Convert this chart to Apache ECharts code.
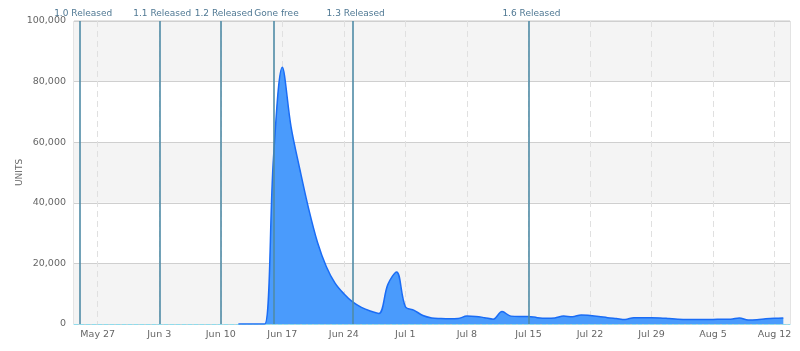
<!DOCTYPE html>
<html lang="en">
<head>
    <meta charset="UTF-8">
    <title>Units</title>
    <script src="https://cdn.jsdelivr.net/npm/echarts@6/dist/echarts.min.js"></script>
    <style>
        html, body {margin: 0; padding: 0; background: #fff;}
        #chart {width: 800px; height: 351px;}
    </style>
</head>
<body>
<div id="chart"></div>
<script>
    // days are counted from May 27
    var monthNames = ['Jan', 'Feb', 'Mar', 'Apr', 'May', 'Jun', 'Jul', 'Aug', 'Sep', 'Oct', 'Nov', 'Dec']
    var dayOffsets = [16, 17, 18, 19, 20, 21, 22, 23, 24, 25, 26, 27, 28, 29, 30, 31, 32, 33, 34, 35, 36, 37, 38, 39,
        40, 41, 42, 43, 44, 45, 46, 47, 48, 49, 50, 51, 52, 53, 54, 55, 56, 57, 58, 59, 60, 61, 62, 63, 64, 65, 66,
        67, 68, 69, 70, 71, 72, 73, 74, 75, 76, 77, 78]
    var units = [0, 0, 0, 0, 55000, 84700, 65000, 51000, 38000, 27000, 19000, 13500, 10000, 7300, 5500, 4300, 3500,
        13000, 17200, 5700, 4500, 2800, 2000, 1800, 1700, 1800, 2600, 2500, 2100, 1600, 4100, 2600, 2500, 2500,
        2100, 1900, 2000, 2600, 2400, 3000, 2800, 2500, 2100, 1800, 1500, 2100, 2100, 2100, 2000, 1800, 1600,
        1500, 1500, 1500, 1500, 1600, 1600, 2000, 1300, 1400, 1700, 1900, 2000]
    var weekTicks = [0, 7, 14, 21, 28, 35, 42, 49, 56, 63, 70, 77]
    var releaseDays = [-2, 7, 14, 20, 29, 49]
    var releaseNames = ['1.0 Released', '1.1 Released', '1.2 Released', 'Gone free', '1.3 Released', '1.6 Released']

    var points = dayOffsets.map(function (d, i) { return [d, units[i]] })
    var releaseLines = releaseDays.map(function (d, i) {
        return {xAxis: d, label: {formatter: releaseNames[i]}}
    })

    function dayLabel(d) {
        var dt = new Date(2013, 4, 27 + Math.round(d))
        return monthNames[dt.getMonth()] + ' ' + dt.getDate()
    }

    var chart = echarts.init(document.getElementById('chart'))
    chart.setOption({
        animation: false,
        textStyle: {fontFamily: 'DejaVu Sans'},
        grid: {left: 74, right: 10, top: 21, bottom: 27, show: true, borderColor: '#c8c8c8', borderWidth: 1},
        xAxis: {
            type: 'value',
            min: -2.7,
            max: 78.76,
            axisLine: {show: true, lineStyle: {color: '#8fdcec', type: 'dashed', width: 1}},
            axisTick: {show: false, customValues: weekTicks},
            axisLabel: {customValues: weekTicks, formatter: dayLabel, color: '#666', fontSize: 9.5, margin: 6},
            splitLine: {show: true, lineStyle: {color: '#e0e0e0', type: [6, 4], width: 1}}
        },
        yAxis: {
            type: 'value',
            min: 0,
            max: 100000,
            interval: 20000,
            name: 'UNITS',
            nameLocation: 'middle',
            nameGap: 50,
            nameMoveOverlap: false,
            nameTextStyle: {color: '#666', fontSize: 9},
            axisLine: {show: false},
            axisTick: {show: false},
            axisLabel: {
                color: '#666', fontSize: 9.5, margin: 8,
                formatter: function (v) { return v.toLocaleString('en-US') }
            },
            splitLine: {lineStyle: {color: '#cfcfcf', width: 1}},
            splitArea: {show: true, areaStyle: {color: ['#f4f4f4', '#ffffff']}}
        },
        series: [{
            type: 'line',
            data: points,
            smooth: 0.35,
            showSymbol: false,
            lineStyle: {color: '#1a6cf5', width: 1.5},
            areaStyle: {color: '#4a9bfc', opacity: 1},
            markLine: {
                silent: true,
                symbol: ['none', 'none'],
                lineStyle: {color: '#4f8ba6', type: 'solid', width: 1.6},
                label: {position: 'end', color: '#4f7893', fontSize: 9, distance: 3, offset: [3, 0]},
                data: releaseLines
            }
        }]
    })
</script>
</body>
</html>
